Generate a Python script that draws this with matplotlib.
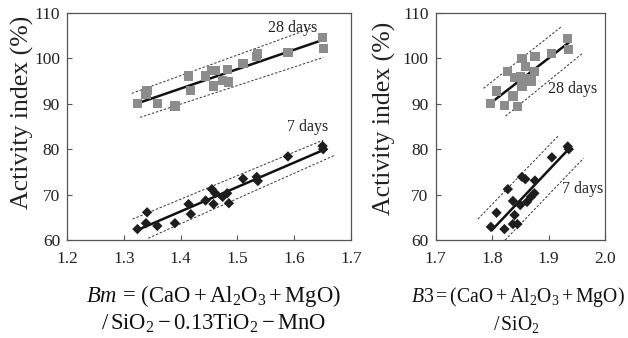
import matplotlib
matplotlib.use("Agg")
import matplotlib.pyplot as plt
import numpy as np

plt.rcParams['font.family'] = ['Liberation Serif', 'DejaVu Serif']
plt.rcParams['mathtext.fontset'] = 'custom'
plt.rcParams['mathtext.rm'] = 'Liberation Serif'
plt.rcParams['mathtext.it'] = 'Liberation Serif:italic'

# ---- Left panel (Bm) ----
bm_28_x = [1.324, 1.341, 1.339, 1.359, 1.390, 1.414, 1.418, 1.444, 1.455, 1.461,
           1.458, 1.474, 1.482, 1.485, 1.510, 1.534, 1.536, 1.589, 1.650, 1.651]
bm_28_y = [90.0, 93.0, 92.0, 90.0, 89.5, 96.1, 92.9, 96.1, 97.3, 97.4,
           93.9, 95.1, 97.5, 94.8, 98.9, 100.4, 101.0, 101.3, 104.6, 102.1]
bm_7_x = [1.324, 1.341, 1.339, 1.359, 1.390, 1.414, 1.418, 1.444, 1.455, 1.461,
          1.458, 1.474, 1.482, 1.485, 1.510, 1.534, 1.536, 1.589, 1.650, 1.651]
bm_7_y = [62.4, 66.1, 63.7, 63.1, 63.7, 67.9, 65.7, 68.7, 71.2, 70.3,
          67.9, 69.5, 70.3, 68.1, 73.5, 73.9, 73.0, 78.4, 80.7, 80.0]
bm_28_fit = ([1.324, 1.650], [90.1, 104.05])
bm_28_upper = ([1.314, 1.640], [92.3, 107.1])
bm_28_lower = ([1.3285, 1.651], [87.0, 100.2])
bm_7_fit = ([1.324, 1.651], [62.2, 79.8])
bm_7_upper = ([1.3155, 1.651], [64.6, 82.0])
bm_7_lower = ([1.343, 1.672], [60.4, 78.7])

# ---- Right panel (B3) ----
b3_28_x = [1.797, 1.808, 1.822, 1.828, 1.837, 1.840, 1.845, 1.850, 1.853, 1.853,
           1.859, 1.862, 1.869, 1.875, 1.876, 1.906, 1.934, 1.936]
b3_28_y = [90.0, 92.8, 89.7, 97.1, 91.7, 95.8, 89.4, 96.0, 100.0, 93.9,
           98.2, 95.6, 95.0, 97.1, 100.5, 101.0, 104.4, 102.0]
b3_7_x = [1.798, 1.808, 1.822, 1.828, 1.837, 1.840, 1.837, 1.845, 1.850, 1.853,
          1.859, 1.862, 1.869, 1.875, 1.876, 1.906, 1.934, 1.936]
b3_7_y = [62.9, 66.0, 62.4, 71.2, 68.6, 65.5, 63.5, 63.5, 67.7, 73.9,
          73.4, 68.4, 69.5, 70.3, 73.1, 78.2, 80.6, 80.0]
b3_28_fit = ([1.797, 1.936], [90.1, 103.5])
b3_28_upper = ([1.785, 1.924], [93.4, 107.1])
b3_28_lower = ([1.824, 1.959], [87.3, 101.0])
b3_7_fit = ([1.800, 1.937], [62.2, 80.2])
b3_7_upper = ([1.775, 1.917], [64.6, 82.9])
b3_7_lower = ([1.818, 1.962], [59.3, 78.0])

left_xticks = [1.2, 1.3, 1.4, 1.5, 1.6, 1.7]
right_xticks = [1.7, 1.8, 1.9, 2.0]
yticks = [60, 70, 80, 90, 100, 110]

W, H = 628, 338
fig = plt.figure(figsize=(W / 100, H / 100), dpi=100)

def px_axes(l, t, r, b):
    return fig.add_axes([l / W, 1 - b / H, (r - l) / W, (b - t) / H])

axL = px_axes(67, 13, 351, 240)
axR = px_axes(435.5, 13, 605, 240)

sq_color = '#8c8c8c'
dm_color = '#1e1e1e'

def draw(ax, x28, y28, x7, y7, fit28, up28, lo28, fit7, up7, lo7):
    for xs, ys in (up28, lo28, up7, lo7):
        ax.plot(xs, ys, ls=(0, (2.5, 1.8)), color='#333333', lw=0.7, zorder=2)
    ax.plot(*fit28, color='#111111', lw=1.8, zorder=3)
    ax.plot(*fit7, color='#111111', lw=1.8, zorder=3)
    ax.scatter(x28, y28, marker='s', s=44, color=sq_color, edgecolors='none', zorder=4)
    ax.scatter(x7, y7, marker='D', s=28, color=dm_color, edgecolors='none', zorder=4)
    ax.set_ylim(60, 110)
    ax.set_yticks(yticks)
    ax.tick_params(direction='in', length=3.5, width=0.8, colors='#555555',
                   labelcolor='#222222', labelsize=12.5)
    ax.tick_params(axis='x', pad=8)
    ax.tick_params(axis='y', pad=5)
    for s in ax.spines.values():
        s.set_color('#555555')
        s.set_linewidth(0.9)

draw(axL, bm_28_x, bm_28_y, bm_7_x, bm_7_y, bm_28_fit, bm_28_upper, bm_28_lower,
     bm_7_fit, bm_7_upper, bm_7_lower)
axL.set_xlim(1.2, 1.7)
axL.set_xticks(left_xticks)
axL.set_xticklabels([f'{v:.1f}' for v in left_xticks])
axL.text(1.598, 106.7, '28 days', ha='center', va='center', fontsize=11.5, color='#222222')
axL.text(1.623, 84.9, '7 days', ha='center', va='center', fontsize=11.5, color='#222222')

draw(axR, b3_28_x, b3_28_y, b3_7_x, b3_7_y, b3_28_fit, b3_28_upper, b3_28_lower,
     b3_7_fit, b3_7_upper, b3_7_lower)
axR.set_xlim(1.7, 2.0)
axR.set_xticks(right_xticks)
axR.set_xticklabels([f'{v:.1f}' for v in right_xticks])
axR.text(1.9435, 93.3, '28 days', ha='center', va='center', fontsize=11.5, color='#222222')
axR.text(1.961, 71.2, '7 days', ha='center', va='center', fontsize=11.5, color='#222222')

fig.text(22 / W, 1 - 112 / H, 'Activity index (%)', rotation=90, ha='center', va='center',
         fontsize=18.5, color='#222222')
fig.text(384 / W, 1 - 118 / H, 'Activity index (%)', rotation=90, ha='center', va='center',
         fontsize=18.5, color='#222222')

fs = 16.3
fig.text(214 / W, 1 - 302 / H, r'$\mathit{Bm}\,=\,(\mathrm{CaO + Al_2O_3 + MgO})$',
         ha='center', va='baseline', fontsize=fs, color='#111111')
fig.text(213 / W, 1 - 330 / H, r'$/\,\mathrm{SiO_2} - 0.13\mathrm{TiO_2} - \mathrm{MnO}$',
         ha='center', va='baseline', fontsize=fs, color='#111111')
fs_r = 14.2
fig.text(518 / W, 1 - 302 / H,
         r'$\mathit{B3}{=}(\mathrm{CaO + Al_2O_3 + MgO})$',
         ha='center', va='baseline', fontsize=fs_r, color='#111111')
fig.text(516 / W, 1 - 330 / H, r'$/\,\mathrm{SiO_2}$',
         ha='center', va='baseline', fontsize=fs_r, color='#111111')

fig.savefig('out.png', dpi=100)
